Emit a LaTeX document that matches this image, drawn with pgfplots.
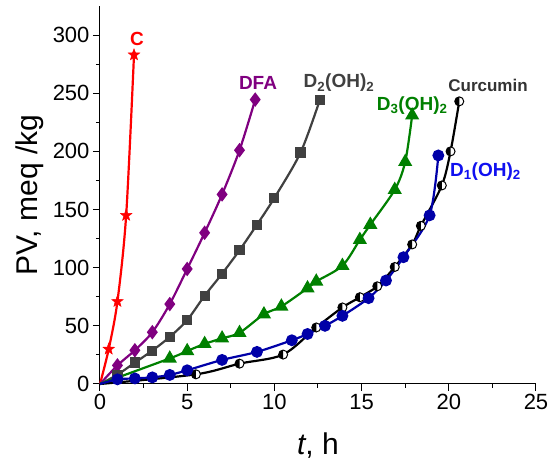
\documentclass[border=0pt]{standalone}
\usepackage{fontspec}
\setmainfont{Liberation Sans}
\usepackage{pgfplots}
\pgfplotsset{compat=1.18}
\definecolor{cC}{HTML}{FF0000}
\definecolor{cDFA}{HTML}{800080}
\definecolor{cDtwo}{HTML}{404040}
\definecolor{cDthree}{HTML}{008000}
\definecolor{cDone}{HTML}{0000A8}
\definecolor{cDonelab}{HTML}{1010F0}
\pgfdeclareplotmark{halfcirc}{%
  \pgfsetfillcolor{white}%
  \pgfpathcircle{\pgfpointorigin}{\pgfplotmarksize}%
  \pgfusepathqfillstroke
  \pgfsetfillcolor{black}%
  \pgfpathmoveto{\pgfqpoint{0pt}{\pgfplotmarksize}}%
  \pgfpatharc{90}{270}{\pgfplotmarksize}%
  \pgfpathclose
  \pgfusepathqfill
}
\pgfdeclareplotmark{fstar}{%
  \pgfpathmoveto{\pgfqpointpolar{90}{\pgfplotmarksize}}%
  \pgfpathlineto{\pgfqpointpolar{126}{0.42\pgfplotmarksize}}%
  \pgfpathlineto{\pgfqpointpolar{162}{\pgfplotmarksize}}%
  \pgfpathlineto{\pgfqpointpolar{198}{0.42\pgfplotmarksize}}%
  \pgfpathlineto{\pgfqpointpolar{234}{\pgfplotmarksize}}%
  \pgfpathlineto{\pgfqpointpolar{270}{0.42\pgfplotmarksize}}%
  \pgfpathlineto{\pgfqpointpolar{306}{\pgfplotmarksize}}%
  \pgfpathlineto{\pgfqpointpolar{342}{0.42\pgfplotmarksize}}%
  \pgfpathlineto{\pgfqpointpolar{18}{\pgfplotmarksize}}%
  \pgfpathlineto{\pgfqpointpolar{54}{0.42\pgfplotmarksize}}%
  \pgfpathclose
  \pgfusepathqfillstroke
}
\begin{document}
\begin{tikzpicture}
\path[use as bounding box] (-100pt,-84pt) rectangle (455pt,384pt);
\begin{axis}[
  at={(0pt,0pt)}, anchor=south west,
  scale only axis, width=436pt, height=378pt,
  xmin=0, xmax=25, ymin=0, ymax=325,
  axis lines*=left,
  axis line style={line width=1pt},
  tick style={line width=1pt, black},
  tick align=outside,
  major tick length=7pt, minor tick length=4pt,
  xtick={0,5,...,25}, ytick={0,50,...,300},
  minor x tick num=1, minor y tick num=1,
  /pgf/number format/assume math mode=true,
  ticklabel style={font=\fontsize{22}{26}\selectfont},
  label style={font=\fontsize{30}{36}\selectfont},
  xlabel={\textit{t}, h},
  xlabel style={yshift=-16pt},
  ylabel={PV, meq /kg},
  ylabel style={yshift=2pt},
  clip=false,
  every axis plot/.append style={line width=2.2pt, mark phase=2},
]
% C
\addplot[cC, smooth, mark=fstar, mark size=6pt, mark options={line width=0.5pt}] coordinates {
 (0,0) (0.5,30) (1,71) (1.5,145) (1.95,283)};
% DFA
\addplot[cDFA, smooth, mark=diamond*, mark size=5.5pt] coordinates {
 (0,0) (1,16) (2,29) (3,44.5) (4,68.7) (5,98.9) (6,130) (7,163) (8,201) (8.9,244.5)};
% D2(OH)2
\addplot[cDtwo, smooth, mark=square*, mark size=4pt] coordinates {
 (0,0) (1,8) (2,18.4) (3,28.7) (4,40.5) (5,55) (6,75.9) (7,94.8) (8,115) (9,137) (10,160) (11.5,199) (12.6,244)};
% Curcumin
\addplot[black, smooth, mark=halfcirc, mark size=4.5pt, mark options={line width=1pt}] coordinates {
 (0,0) (5.5,8.3) (8,17.5) (10.5,25.3) (12.4,48.6) (13.9,65.8) (14.9,74.6) (15.9,84) (16.9,100.6) (17.9,120) (18.4,136) (19.6,170.7) (20.1,200) (20.6,243)};
% D3(OH)2
\addplot[cDthree, smooth, mark=triangle*, mark size=6pt] coordinates {
 (0,0) (4,22) (5,28.4) (6,34.5) (7,39.3) (8,44) (9.4,60) (10.4,66.7) (11.9,82.4) (12.4,88.2) (13.9,101.7) (14.9,124) (15.5,137) (16.9,167) (17.5,191) (17.9,231)};
% D1(OH)2
\addplot[cDone, smooth, mark=*, mark size=4.8pt] coordinates {
 (0,0) (1,4) (2,4.8) (3,5.7) (4,7.8) (5,11.8) (7,20.7) (9,27.6) (11,37.6) (11.9,43) (12.9,50) (13.9,58.6) (15.4,73.8) (16.4,89) (17.4,109) (18.9,145) (19.4,196.5)};
\node[cC, font=\fontsize{19}{22}\selectfont\bfseries] at (axis cs:2.12,297) {C};
\node[cDFA, font=\fontsize{19}{22}\selectfont\bfseries] at (axis cs:9.06,258.6) {DFA};
\node[cDtwo, font=\fontsize{19}{22}\selectfont\bfseries] at (axis cs:13.7,259) {D\textsubscript{2}(OH)\textsubscript{2}};
\node[cDthree, font=\fontsize{19}{22}\selectfont\bfseries] at (axis cs:17.9,239.5) {D\textsubscript{3}(OH)\textsubscript{2}};
\node[black!80, font=\fontsize{17}{21}\selectfont\bfseries] at (axis cs:22.25,257) {Curcumin};
\node[cDonelab, font=\fontsize{19}{22}\selectfont\bfseries] at (axis cs:22.1,183) {D\textsubscript{1}(OH)\textsubscript{2}};
\end{axis}
\end{tikzpicture}
\end{document}
